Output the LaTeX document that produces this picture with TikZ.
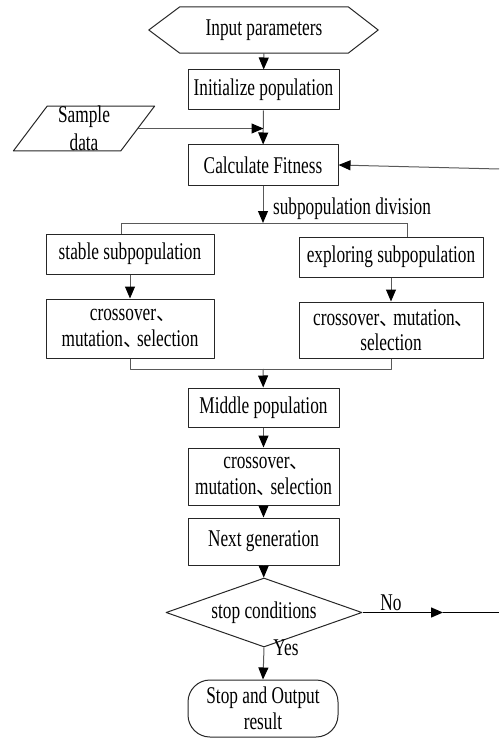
\documentclass[tikz,border=0pt]{standalone}
\usepackage{fontspec}
\setmainfont{Liberation Serif}[FakeStretch=0.72]
\newfontfamily\cjk{Noto Sans CJK SC}[Scale=0.8]
\newcommand{\dun}{\makebox[14pt][l]{\cjk 、}}
\usetikzlibrary{arrows.meta,shapes.geometric}

\begin{document}
\begin{tikzpicture}[line join=round,>={Triangle[length=12pt,width=10pt,color=black]},x=1pt,y=-1pt,
	font=\fontsize{24}{25.5}\selectfont,
	box/.style={draw=black!85,line width=1pt,inner sep=0pt,align=center,minimum width=151pt,minimum height=40pt},
	link/.style={draw=black!65,line width=1pt}]
			\useasboundingbox (0,0) rectangle (499,738);
			\node[inner sep=0pt,minimum width=168pt,minimum height=46pt] (input) at (264,30) {Input parameters};
			\draw[black!85,line width=1pt] (input.north west) -- (input.north east) -- ([xshift=30pt]input.east) -- (input.south east) -- (input.south west) -- ([xshift=-31pt]input.west) -- cycle;
			\node[box] (init) at (263.5,90) {Initialize population};
			\node[trapezium,trapezium left angle=62,trapezium right angle=118,trapezium stretches=true,draw=black!85,line width=1pt,inner sep=0pt,align=center,minimum width=142pt,minimum height=39pt,font=\fontsize{24}{28}\selectfont] (sample) at (84,128.5) {Sample\\data};
			\node[box,minimum width=150pt] (calc) at (263,165) {Calculate Fitness};
			\node[box,minimum width=168pt] (stable) at (130,254) {stable subpopulation};
			\node[box,minimum width=184pt] (explore) at (391,257) {exploring subpopulation};
			\node[box,minimum width=168pt,minimum height=59pt] (crossa) at (130,328.5) {crossover\dun\\mutation\dun selection};
			\node[box,minimum width=184pt,minimum height=56pt] (crossb) at (391,330) {crossover\dun mutation\dun\\selection};
			\node[box,minimum height=39pt] (middle) at (263.5,407.5) {Middle population};
			\node[box,minimum height=57pt] (crossc) at (263.5,476.5) {crossover\dun\\mutation\dun selection};
			\node[box,minimum height=47pt] (next) at (263.5,541.5) {Next generation};
			\node[diamond,aspect=2.84,draw=black!85,line width=1pt,inner sep=0pt,minimum width=196pt,minimum height=69pt] (stopc) at (264,612.5) {stop conditions};
			\node[box,minimum width=150pt,minimum height=57pt,rounded corners=22pt] (output) at (263,708.5) {Stop and Output\\result};
			\node (division) at (352,209) {subpopulation division};
			\node (no) at (391,603) {No};
			\node (yes) at (286,648) {Yes};
			\coordinate (fb) at (499,169);
			\coordinate (split) at (263,223);
			\coordinate (sl) at (121,223);
			\coordinate (sr) at (407,223);
			\coordinate (merge) at (263,369);
			\coordinate (noarr) at (443,612.5);
			\coordinate (noend) at (499,612.5);
			\draw[link,->] (input) -- (init);
			\draw[link,->] (init) -- (calc);
			\draw[link,->] (sample.east) -- (sample.east -| init.south);
			\draw[link,->] (fb) -- (calc.east);
			\draw[link,->] (calc) -- (split);
			\draw[link] (sl) -- (sr);
			\draw[link] (sl) -- (sl |- stable.north);
			\draw[link] (sr) -- (sr |- explore.north);
			\draw[link,->] (stable) -- (crossa);
			\draw[link,->] (explore) -- (crossb);
			\draw[link] (crossa.south) -- (crossa.south |- merge) -- (crossb.south |- merge) -- (crossb.south);
			\draw[link,->] (merge) -- (middle);
			\draw[link,->] (middle) -- (crossc);
			\draw[link,->] (crossc) -- (next);
			\draw[link,->] (next) -- (stopc);
			\draw[line width=1.4pt,->] (stopc.east) -- (noarr);
			\draw[line width=1.4pt] (noarr) -- (noend);
			\draw[link,->] (stopc.south) -- (output.north);
\end{tikzpicture}
\end{document}
